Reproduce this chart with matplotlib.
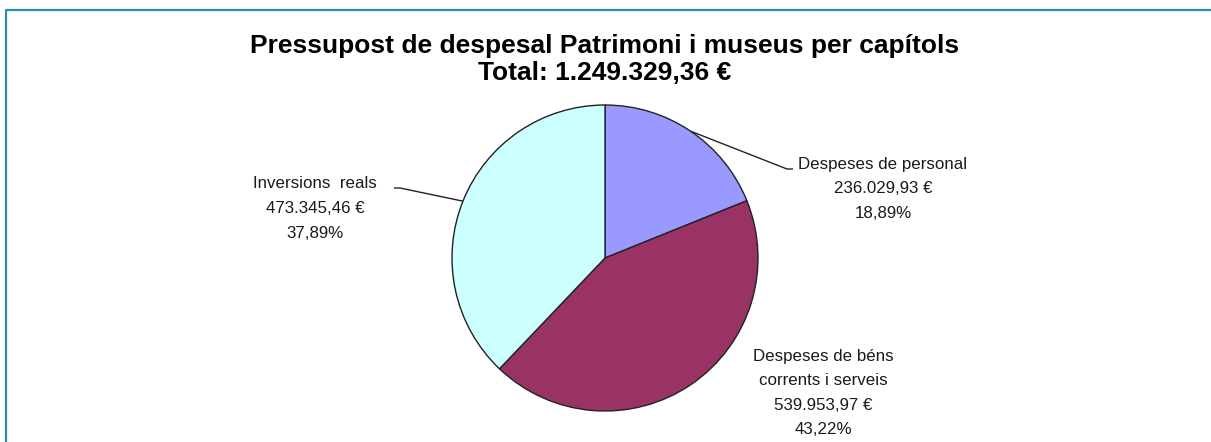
import matplotlib
matplotlib.use("Agg")
import matplotlib.pyplot as plt
import numpy as np
from matplotlib.lines import Line2D

categories = ["Despeses de personal", "Despeses de béns\ncorrents i serveis", "Inversions  reals"]
values = [236029.93, 539953.97, 473345.46]
colors = ["#9999FF", "#993366", "#CCFFFF"]
title = "Pressupost de despesal Patrimoni i museus per capítols"

def fmt_eur(v):
    s = f"{v:,.2f}"
    return s.replace(",", "X").replace(".", ",").replace("X", ".")

total = sum(values)
plt.rcParams['font.family'] = ['Liberation Sans', 'DejaVu Sans']

W, H = 1211, 442
fig = plt.figure(figsize=(W / 100, H / 100), dpi=100)
ax = fig.add_axes([0, 0, 1, 1])
ax.set_xlim(0, W)
ax.set_ylim(0, H)
ax.set_aspect('equal')
ax.axis('off')

cx, cy, r = 605, H - 258, 153
wedges, _ = ax.pie(values, colors=colors, startangle=90, counterclock=False,
                   center=(cx, cy), radius=r,
                   wedgeprops=dict(edgecolor="#222222", linewidth=1.0))
ax.set_xlim(0, W)
ax.set_ylim(0, H)

# label placement (pixel coords from top)
label_pos = [(883, 164, 'center'), (823, 356, 'center'), (315, 184, 'center')]
elbows = [((787, 169), (793, 169)), None, ((400, 188), (394, 188))]
line_h = 24.5

for i, w in enumerate(wedges):
    pct = values[i] / total * 100
    lines = categories[i].split("\n") + [fmt_eur(values[i]) + " €", f"{pct:.2f}".replace(".", ",") + "%"]
    lx, ly, ha = label_pos[i]
    for j, t in enumerate(lines):
        ax.text(lx, H - (ly + j * line_h), t, ha=ha, va='center', fontsize=12.2, color="#1a1a1a")
    if elbows[i] is not None:
        ang = np.deg2rad((w.theta1 + w.theta2) / 2)
        ex, ey = cx + r * np.cos(ang), cy + r * np.sin(ang)
        (x1, y1), (x2, y2) = elbows[i]
        ax.plot([ex, x1, x2], [ey, H - y1, H - y2], color="#222222", lw=1.0, solid_capstyle='butt')

fig.text(605 / W, 1 - 46 / H, title, ha='center', va='center', fontsize=19, fontweight='bold', color='black')
fig.text(605 / W, 1 - 73 / H, "Total: " + fmt_eur(total) + " €", ha='center', va='center', fontsize=19, fontweight='bold', color='black')

# frame border (left and top)
fig.add_artist(Line2D([5.5 / W, 5.5 / W, 1.0], [0.0, 1 - 9.5 / H, 1 - 9.5 / H],
                      transform=fig.transFigure, color="#2A90A8", lw=1.6))

fig.savefig("out.png", dpi=100)
